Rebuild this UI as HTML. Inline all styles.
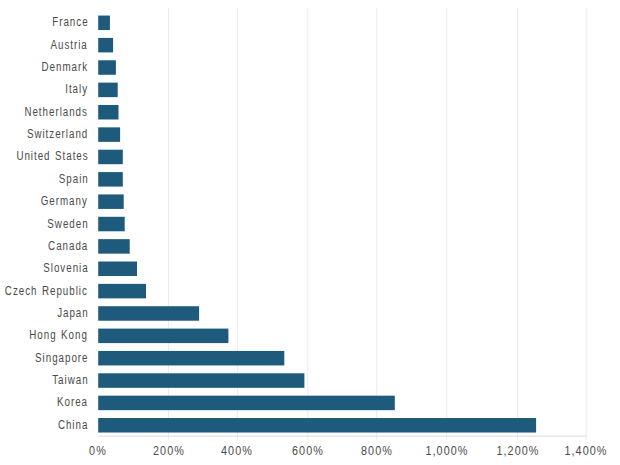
<!DOCTYPE html>
<html><head><meta charset="utf-8"><style>
html,body{margin:0;padding:0;background:#fff;width:620px;height:465px;overflow:hidden;position:relative;font-family:"Liberation Sans",sans-serif;}
svg{position:absolute;left:0;top:0;}
.lab{position:absolute;right:531.8px;height:16px;line-height:16px;font-size:12px;color:#4a4a4a;white-space:nowrap;text-align:right;transform-origin:right center;transform:scaleX(0.815);letter-spacing:1.2px;word-spacing:1px;}
.tick{position:absolute;top:443px;width:80px;text-align:center;font-size:12px;line-height:16px;color:#4a4a4a;transform:scaleX(0.9);letter-spacing:1.2px;}
</style></head><body>
<svg width="620" height="465" viewBox="0 0 620 465">
<g fill="#ececec"><rect x="168.00" y="8" width="1" height="432"/><rect x="236.90" y="8" width="1" height="432"/><rect x="307.30" y="8" width="1" height="432"/><rect x="376.20" y="8" width="1" height="432"/><rect x="446.10" y="8" width="1" height="432"/><rect x="517.10" y="8" width="1" height="432"/><rect x="585.70" y="8" width="1" height="432"/></g>
<rect x="98.2" y="435.6" width="488.5" height="1" fill="#dcdcdc"/>
<g fill="#1e5a7c"><rect x="98.2" y="15.55" width="11.70" height="14.5"/><rect x="98.2" y="37.91" width="14.90" height="14.5"/><rect x="98.2" y="60.27" width="17.70" height="14.5"/><rect x="98.2" y="82.63" width="19.50" height="14.5"/><rect x="98.2" y="104.99" width="20.30" height="14.5"/><rect x="98.2" y="127.35" width="21.90" height="14.5"/><rect x="98.2" y="149.71" width="24.60" height="14.5"/><rect x="98.2" y="172.07" width="24.60" height="14.5"/><rect x="98.2" y="194.43" width="25.50" height="14.5"/><rect x="98.2" y="216.79" width="26.50" height="14.5"/><rect x="98.2" y="239.15" width="31.50" height="14.5"/><rect x="98.2" y="261.51" width="38.80" height="14.5"/><rect x="98.2" y="283.87" width="47.80" height="14.5"/><rect x="98.2" y="306.23" width="100.90" height="14.5"/><rect x="98.2" y="328.59" width="130.20" height="14.5"/><rect x="98.2" y="350.95" width="186.10" height="14.5"/><rect x="98.2" y="373.31" width="206.20" height="14.5"/><rect x="98.2" y="395.67" width="296.60" height="14.5"/><rect x="98.2" y="418.03" width="437.90" height="14.5"/></g>
</svg>
<div class="lab" style="top:14.30px">France</div><div class="lab" style="top:36.66px">Austria</div><div class="lab" style="top:59.02px">Denmark</div><div class="lab" style="top:81.38px">Italy</div><div class="lab" style="top:103.74px">Netherlands</div><div class="lab" style="top:126.10px">Switzerland</div><div class="lab" style="top:148.46px">United States</div><div class="lab" style="top:170.82px">Spain</div><div class="lab" style="top:193.18px">Germany</div><div class="lab" style="top:215.54px">Sweden</div><div class="lab" style="top:237.90px">Canada</div><div class="lab" style="top:260.26px">Slovenia</div><div class="lab" style="top:282.62px">Czech Republic</div><div class="lab" style="top:304.98px">Japan</div><div class="lab" style="top:327.34px">Hong Kong</div><div class="lab" style="top:349.70px">Singapore</div><div class="lab" style="top:372.06px">Taiwan</div><div class="lab" style="top:394.42px">Korea</div><div class="lab" style="top:416.78px">China</div>
<div class="tick" style="left:58.20px">0%</div><div class="tick" style="left:128.50px">200%</div><div class="tick" style="left:197.40px">400%</div><div class="tick" style="left:267.80px">600%</div><div class="tick" style="left:336.70px">800%</div><div class="tick" style="left:406.60px">1,000%</div><div class="tick" style="left:477.60px">1,200%</div><div class="tick" style="left:546.20px">1,400%</div>
</body></html>
